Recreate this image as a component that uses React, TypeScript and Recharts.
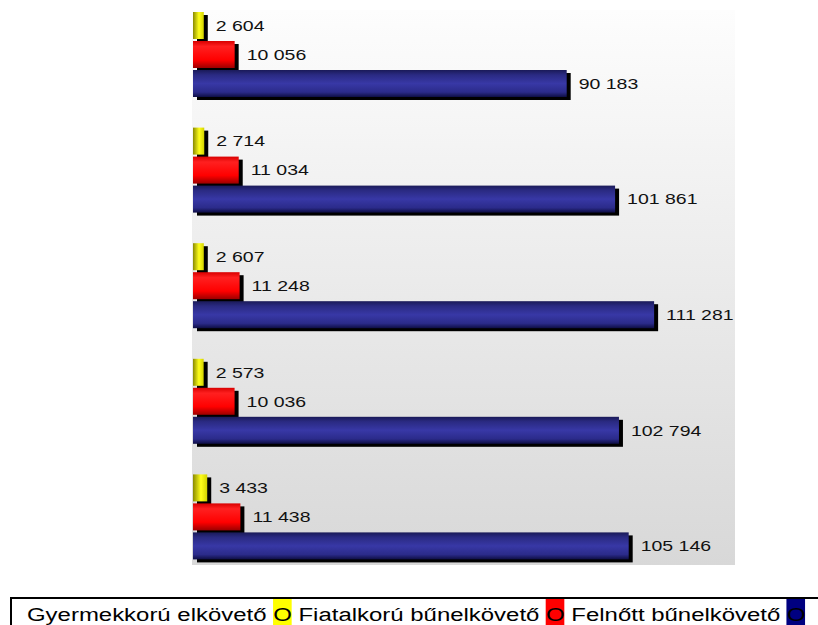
import React from "react";
import { Bar, BarChart, LabelList, XAxis, YAxis } from "recharts";

const periods = ["1", "2", "3", "4", "5"];
const gyermekkoru = [2604, 2714, 2607, 2573, 3433];
const fiatalkoru = [10056, 11034, 11248, 10036, 11438];
const felnott = [90183, 101861, 111281, 102794, 105146];

const seriesNames = ["Gyermekkorú elkövető", "Fiatalkorú bűnelkövető", "Felnőtt bűnelkövető"];
const seriesColors = ["#ffff00", "#ff0000", "#000080"];

const data = periods.map((p, i) => ({
  period: p,
  gyermek: gyermekkoru[i],
  fiatal: fiatalkoru[i],
  felnott: felnott[i],
}));

const fmt = (v: any) => String(v).replace(/\B(?=(\d{3})+(?!\d))/g, " ");

const labelStyle: React.CSSProperties = {
  transformBox: "fill-box",
  transformOrigin: "left center",
  transform: "scaleX(1.3)",
};

// bar with a hard black drop shadow
const shadowBar = (fillId: string) => (props: any) => {
  const { x, y, width, height } = props;
  if (!width || width <= 0) return <g />;
  return (
    <g>
      <rect x={x + 4} y={y + 3} width={width} height={height} fill="#000" />
      <rect x={x} y={y} width={width} height={height} fill={`url(#${fillId})`} />
    </g>
  );
};

export default function App() {
  return (
    <div style={{ position: "fixed", left: 0, top: 0, width: 818, height: 625, overflow: "hidden", background: "#fff", fontFamily: "'Liberation Sans', Arial, sans-serif" }}>
      <div
        style={{
          position: "absolute",
          left: 192,
          top: 10,
          width: 543,
          height: 555,
          overflow: "hidden",
          background: "linear-gradient(#fdfdfd, #d8d8d8)",
        }}
      >
        <div style={{ position: "absolute", left: 0, top: -13 }}>
          <BarChart
            width={543}
            height={578}
            data={data}
            layout="vertical"
            margin={{ top: 0, right: 0, bottom: 0, left: 1 }}
            barSize={27}
            barGap={2}
          >
            <defs>
              <linearGradient id="gYellow" x1="0" y1="0" x2="1" y2="0">
                <stop offset="0" stopColor="#8a8a00" />
                <stop offset="0.55" stopColor="#ffff1a" />
                <stop offset="1" stopColor="#d2d200" />
              </linearGradient>
              <linearGradient id="gRed" x1="0" y1="0" x2="0" y2="1">
                <stop offset="0" stopColor="#d80000" />
                <stop offset="0.2" stopColor="#ff2020" />
                <stop offset="0.7" stopColor="#ff0000" />
                <stop offset="1" stopColor="#9c0000" />
              </linearGradient>
              <linearGradient id="gBlue" x1="0" y1="0" x2="0" y2="1">
                <stop offset="0" stopColor="#1a1a58" />
                <stop offset="0.18" stopColor="#2a2a82" />
                <stop offset="0.5" stopColor="#3838a6" />
                <stop offset="0.82" stopColor="#2b2b8a" />
                <stop offset="1" stopColor="#0e0e44" />
              </linearGradient>
            </defs>
            <XAxis type="number" domain={[0, 130800]} hide />
            <YAxis type="category" dataKey="period" hide />
            <Bar dataKey="gyermek" name={seriesNames[0]} shape={shadowBar("gYellow")} isAnimationActive={false}>
              <LabelList dataKey="gyermek" position="right" offset={12} formatter={fmt} fill="#111" fontSize={15} style={labelStyle} />
            </Bar>
            <Bar dataKey="fiatal" name={seriesNames[1]} shape={shadowBar("gRed")} isAnimationActive={false}>
              <LabelList dataKey="fiatal" position="right" offset={12} formatter={fmt} fill="#111" fontSize={15} style={labelStyle} />
            </Bar>
            <Bar dataKey="felnott" name={seriesNames[2]} shape={shadowBar("gBlue")} isAnimationActive={false}>
              <LabelList dataKey="felnott" position="right" offset={12} formatter={fmt} fill="#111" fontSize={15} style={labelStyle} />
            </Bar>
          </BarChart>
        </div>
      </div>

      <div
        style={{
          position: "absolute",
          left: 10,
          top: 597,
          width: 840,
          height: 40,
          border: "2px solid #000",
          boxSizing: "border-box",
        }}
      >
        <div
          style={{
            position: "absolute",
            left: 15,
            top: 5,
            whiteSpace: "nowrap",
            fontSize: 18,
            lineHeight: "22px",
            color: "#000",
            transform: "scaleX(1.33)",
            transformOrigin: "left center",
          }}
        >
          {seriesNames.map((n, i) => (
            <span key={n}>
              {i > 0 ? " " : ""}
              {n} <span style={{ background: seriesColors[i], paddingTop: 6 }}>O</span>
            </span>
          ))}
        </div>
      </div>
    </div>
  );
}
